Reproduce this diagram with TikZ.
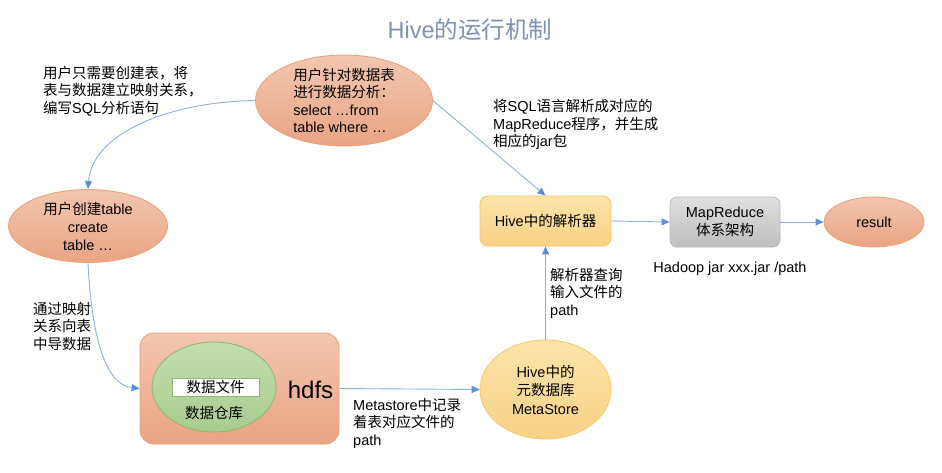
\documentclass[tikz,border=0pt]{standalone}
\usepackage{fontspec}
\setmainfont{Liberation Sans}
\newfontfamily\cjk{Noto Sans CJK SC}
\newcommand\zh[1]{{\cjk #1}}
\usetikzlibrary{shapes.geometric,arrows.meta}
\definecolor{titlecol}{RGB}{128,146,178}
\definecolor{salmontop}{RGB}{242,198,176}
\definecolor{salmonbot}{RGB}{234,164,132}
\definecolor{salmonbd}{RGB}{232,160,120}
\definecolor{yeltop}{RGB}{252,228,170}
\definecolor{yelbot}{RGB}{248,210,135}
\definecolor{yelbd}{RGB}{245,200,105}
\definecolor{grntop}{RGB}{194,222,174}
\definecolor{grnbot}{RGB}{168,204,144}
\definecolor{grnbd}{RGB}{140,184,112}
\definecolor{graytop}{RGB}{224,224,224}
\definecolor{graybot}{RGB}{190,190,190}
\definecolor{graybd}{RGB}{185,185,185}
\definecolor{linecol}{RGB}{140,178,226}
\definecolor{tipcol}{RGB}{92,144,212}
\tikzset{
  txt/.style={font=\fontsize{14.5}{17.5}\selectfont, inner sep=0pt, text=black},
  salmonell/.style={ellipse, draw=salmonbd, line width=0.8pt, top color=salmontop, bottom color=salmonbot, inner sep=0pt},
  yelell/.style={ellipse, draw=yelbd, line width=0.8pt, top color=yeltop, bottom color=yelbot, inner sep=0pt},
  conn/.style={draw=linecol, line width=0.9pt, -{Triangle[length=8pt,width=7pt,color=tipcol]}}
}
\begin{document}
\begin{tikzpicture}[x=1pt,y=-1pt]
\useasboundingbox[fill=white] (0,0) rectangle (942,472);

% title
\node[inner sep=0pt, text=titlecol, font=\fontsize{23.5}{28}\selectfont] (title) at (470,30) {Hive\zh{的运行机制}};

% top ellipse
\node[salmonell, minimum width=177pt, minimum height=91pt] (q) at (344,100.5) {};
\node[txt, align=left] (qt) at (q) {\zh{用户针对数据表}\\\zh{进行数据分析：}\\select …from\\table where …};

% left note
\node[txt, align=left, anchor=north west] (n1) at (43,66) {\zh{用户只需要创建表，将}\\\zh{表与数据建立映射关系，}\\\zh{编写}SQL\zh{分析语句}};

% create table ellipse
\node[salmonell, minimum width=159pt, minimum height=73pt] (ct) at (88,226) {};
\node[txt, align=center, font=\fontsize{14.5}{18}\selectfont] (ctt) at (ct) {\zh{用户创建}table\\create\\table …};

\node[txt, align=left, anchor=north west] (n2) at (33,302) {\zh{通过映射}\\\zh{关系向表}\\\zh{中导数据}};

% hdfs box
\node[draw=salmonbd, line width=0.8pt, top color=salmontop, bottom color=salmonbot, rounded corners=14pt, minimum width=199pt, minimum height=111pt, inner sep=0pt] (hdfs) at (239.5,388.5) {};
\node[ellipse, draw=grnbd, line width=0.8pt, top color=grntop, bottom color=grnbot, minimum width=124pt, minimum height=90pt, inner sep=0pt] (wh) at (214,387) {};
\node[draw=grnbd, line width=0.8pt, fill=white, minimum width=87pt, minimum height=18pt, inner sep=0pt, font=\fontsize{14.5}{17.5}\selectfont] (df) at (215.5,387) {\zh{数据文件}};
\node[txt] (whl) at (214,413) {\zh{数据仓库}};
\node[inner sep=0pt, font=\fontsize{24}{28}\selectfont] (hl) at (310.5,390) {hdfs};

\node[txt, align=left, anchor=north west] (n3) at (353,398) {Metastore\zh{中记录}\\\zh{着表对应文件的}\\path};

% metastore
\node[yelell, minimum width=131pt, minimum height=99pt] (ms) at (545.5,389.5) {};
\node[txt, align=center, font=\fontsize{14.5}{18.5}\selectfont] (mst) at (ms) {Hive\zh{中的}\\\zh{元数据库}\\MetaStore};

\node[txt, align=left, anchor=north west] (n4) at (550,268) {\zh{解析器查询}\\\zh{输入文件的}\\path};

% parser
\node[draw=yelbd, line width=0.8pt, top color=yeltop, bottom color=yelbot, rounded corners=8pt, minimum width=131pt, minimum height=50pt, inner sep=0pt, txt] (parser) at (545.5,221) {Hive\zh{中的解析器}};

\node[txt, align=left, anchor=north west] (n5) at (493,99) {\zh{将}SQL\zh{语言解析成对应的}\\MapReduce\zh{程序，并生成}\\\zh{相应的}jar\zh{包}};

% mapreduce
\node[draw=graybd, line width=0.8pt, top color=graytop, bottom color=graybot, rounded corners=7pt, minimum width=110pt, minimum height=50pt, inner sep=0pt, txt, align=center] (mr) at (725,222) {MapReduce\\\zh{体系架构}};
\node[txt] (hj) at (730,269) {Hadoop jar xxx.jar /path};

% result
\node[salmonell, minimum width=100pt, minimum height=50pt, txt] (res) at (874,222) {result};

% connectors
\draw[conn] (q.west) .. controls (165,102) and (92,135) .. (ct.north);
\draw[conn] (ct.south) .. controls (92,345) and (108,385) .. (hdfs.west);
\draw[conn] (hdfs.east) -- (ms.west);
\draw[conn] (ms.north) -- (parser.south);
\draw[conn] (q.east) -- (parser.north);
\draw[conn] (parser.east) -- (mr.west);
\draw[conn] (mr.east) -- (res.west);
\end{tikzpicture}
\end{document}
